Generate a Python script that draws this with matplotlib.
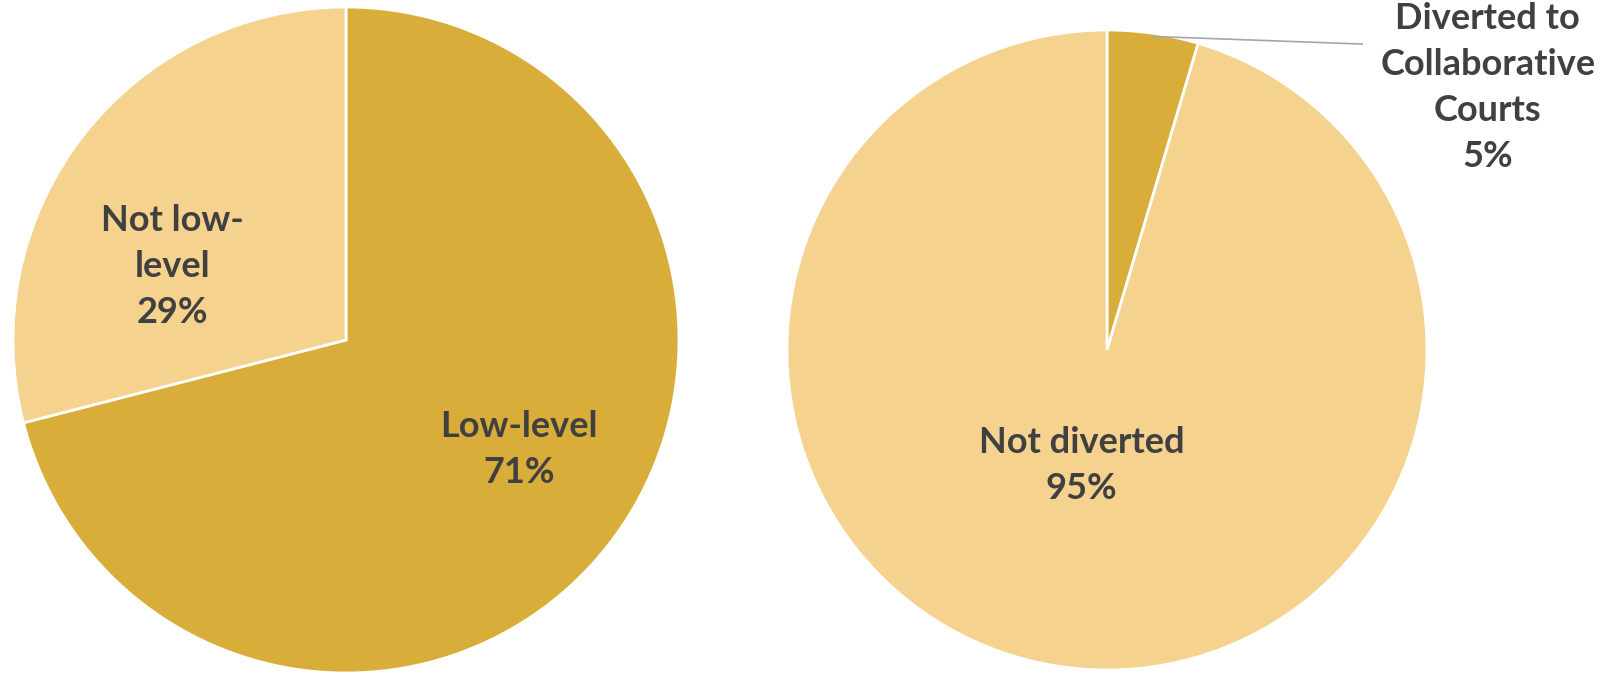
import matplotlib.pyplot as plt

# Two pie charts: offense level and diversion to collaborative courts
level_labels = ["Low-level", "Not low-level"]
level_values = [71, 29]

divert_labels = ["Diverted to\nCollaborative\nCourts", "Not diverted"]
divert_values = [4.6, 95.4]

dark = "#D9AD3A"
light = "#F6D28F"
text_color = "#404040"

plt.rcParams['font.family'] = ['Lato', 'DejaVu Sans']

fig = plt.figure(figsize=(16.04, 6.74), dpi=100)
W, H = 1604, 674


def box(cx, cy, r):
    return [(cx - r) / W, (H - cy - r) / H, 2 * r / W, 2 * r / H]


ax1 = fig.add_axes(box(346, 340, 333))
ax2 = fig.add_axes(box(1107, 350, 320))

kw = dict(startangle=90, counterclock=False, radius=1,
          wedgeprops=dict(edgecolor="white", linewidth=2))

ax1.pie(level_values, colors=[dark, light], **kw)
ax2.pie(divert_values, colors=[dark, light], **kw)

tkw = dict(ha="center", va="center", fontsize=26, fontweight="bold",
           color=text_color, linespacing=1.48)

ax1.text(0.52, -0.33, f"{level_labels[0]}\n{level_values[0]:.0f}%", **tkw)
ax1.text(-0.52, 0.22, "Not low-\nlevel\n" + f"{level_values[1]:.0f}%", **tkw)

ax2.text(-0.08, -0.36, f"{divert_labels[1]}\n{divert_values[1]:.0f}%", **tkw)
ax2.text(1.19, 0.82, f"{divert_labels[0]}\n{divert_values[0]:.0f}%",
         clip_on=False, **tkw)
# leader line from the small wedge to its label
ax2.plot([0.14, 0.80], [0.98, 0.956], color="#A6A6A6", lw=1.2,
         clip_on=False, solid_capstyle="butt")

for ax in (ax1, ax2):
    ax.set_xlim(-1, 1)
    ax.set_ylim(-1, 1)
    ax.set_aspect("auto")
    ax.axis("off")

fig.savefig("out.png", dpi=100)
